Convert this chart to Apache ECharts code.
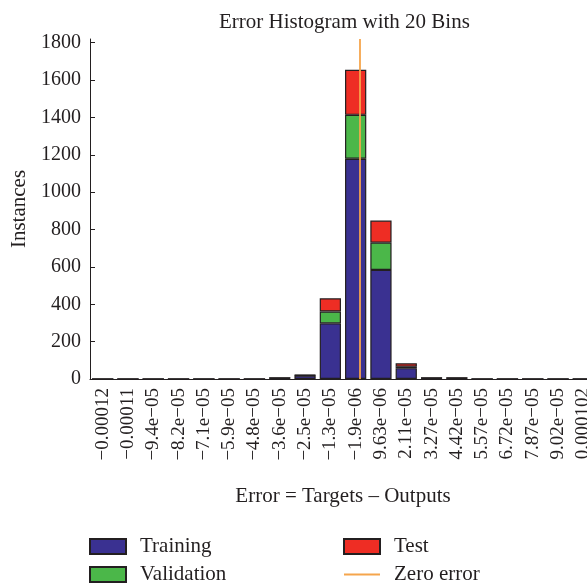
<!DOCTYPE html>
<html>
<head>
<meta charset="utf-8">
<script src="https://cdn.jsdelivr.net/npm/echarts@6/dist/echarts.min.js"></script>
<style>
  html, body { margin: 0; padding: 0; background: #fff; }
  #chart { width: 587px; height: 586px; }
</style>
</head>
<body>
<div id="chart"></div>
<script>
// Bin labels as printed under the axis (bin centres)
const tickLabels = [
  '\u22120.00012', '\u22120.00011', '\u22129.4e\u221205', '\u22128.2e\u221205', '\u22127.1e\u221205',
  '\u22125.9e\u221205', '\u22124.8e\u221205', '\u22123.6e\u221205', '\u22122.5e\u221205', '\u22121.3e\u221205',
  '\u22121.9e\u221206', '9.63e\u221206', '2.11e\u221205', '3.27e\u221205', '4.42e\u221205',
  '5.57e\u221205', '6.72e\u221205', '7.87e\u221205', '9.02e\u221205', '0.000102'
];

// Numeric bin centres (errors)
const binCenters = [
  -1.1687e-4, -1.0537e-4, -9.387e-5, -8.237e-5, -7.087e-5,
  -5.937e-5, -4.787e-5, -3.637e-5, -2.487e-5, -1.337e-5,
  -1.87e-6, 9.63e-6, 2.113e-5, 3.263e-5, 4.413e-5,
  5.563e-5, 6.713e-5, 7.863e-5, 9.013e-5, 1.0163e-4
];

// Instances per bin
const training   = [0, 0, 0, 0, 0, 0, 0, 4, 18, 298, 1179, 584, 58, 4, 4, 0, 0, 0, 0, 0];
const validation = [0, 0, 0, 0, 0, 0, 0, 1, 2, 63, 235, 146, 8, 1, 1, 0, 0, 0, 0, 0];
const test       = [0, 0, 0, 0, 0, 0, 0, 1, 2, 71, 241, 118, 18, 1, 1, 0, 0, 0, 0, 0];

const zeroError = 0;
const yTicks = [0, 200, 400, 600, 800, 1000, 1200, 1400, 1600, 1800];
const yMax = 1820;

const binWidth = (binCenters[binCenters.length - 1] - binCenters[0]) / (binCenters.length - 1);

const FONT = 'Liberation Serif';
const TEXT = '#231f20';
const AXIS = '#231f20';
const ORANGE = '#f5a54c';
const barBorder = { borderColor: '#231f20', borderWidth: 1.2 };

const legendText = { fontFamily: FONT, fontSize: 21, color: TEXT, lineHeight: 20, padding: [0, 0, 0, 9] };
// thin horizontal bar used as the legend glyph of the zero-error line
const lineIcon = 'path://M0,0h36v2h-36z';

const legendBase = {
  orient: 'vertical', top: 536, padding: 0,
  itemWidth: 36, itemHeight: 15, itemGap: 7,
  textStyle: legendText
};

const chart = echarts.init(document.getElementById('chart'), null, { renderer: 'canvas' });

chart.setOption({
  backgroundColor: '#fff',
  animation: false,
  textStyle: { fontFamily: FONT, color: TEXT },
  title: {
    text: 'Error Histogram with 20 Bins',
    left: 214,
    top: 7,
    textStyle: { fontFamily: FONT, fontSize: 21, fontWeight: 'normal', color: TEXT }
  },
  // plot area runs past the right edge, so the last bin is partly cut off
  grid: { left: 90, top: 39, width: 506, height: 340, containLabel: false, outerBoundsMode: 'none' },
  legend: [
    Object.assign({}, legendBase, {
      left: 89,
      data: [
        { name: 'Training', icon: 'rect' },
        { name: 'Validation', icon: 'rect' }
      ]
    }),
    Object.assign({}, legendBase, {
      left: 343,
      data: [
        { name: 'Test', icon: 'rect' },
        { name: 'Zero error', icon: lineIcon }
      ]
    })
  ],
  xAxis: [
    {
      type: 'category',
      data: tickLabels,
      name: 'Error = Targets \u2013 Outputs',
      nameLocation: 'middle',
      nameGap: 107,
      nameTextStyle: { fontFamily: FONT, fontSize: 21, color: TEXT },
      axisLine: { onZero: false, lineStyle: { color: AXIS, width: 1 } },
      axisTick: { inside: true, length: 5, alignWithLabel: true, lineStyle: { color: AXIS } },
      axisLabel: { rotate: 90, interval: 0, margin: 9, fontFamily: FONT, fontSize: 19, color: TEXT },
      splitLine: { show: false }
    },
    {
      type: 'value',
      show: false,
      min: binCenters[0] - binWidth / 2,
      max: binCenters[binCenters.length - 1] + binWidth / 2
    }
  ],
  yAxis: {
    type: 'value',
    min: 0,
    max: yMax,
    name: 'Instances',
    nameLocation: 'middle',
    nameGap: 52,
    nameTextStyle: { fontFamily: FONT, fontSize: 21, color: TEXT },
    axisLine: { show: true, onZero: false, lineStyle: { color: AXIS, width: 1 } },
    axisTick: { show: true, inside: true, length: 5, customValues: yTicks, lineStyle: { color: AXIS } },
    axisLabel: {
      margin: 9, customValues: yTicks, fontFamily: FONT, fontSize: 20, color: TEXT,
      formatter: (v) => String(v)
    },
    splitLine: { show: false }
  },
  series: [
    {
      name: 'Training', type: 'bar', stack: 'err', data: training,
      barCategoryGap: '16%',
      itemStyle: Object.assign({ color: '#3a3191' }, barBorder)
    },
    {
      name: 'Validation', type: 'bar', stack: 'err', data: validation,
      itemStyle: Object.assign({ color: '#4bb749' }, barBorder)
    },
    {
      name: 'Test', type: 'bar', stack: 'err', data: test,
      itemStyle: Object.assign({ color: '#ee2d24' }, barBorder)
    },
    {
      name: 'Zero error', type: 'line',
      xAxisIndex: 1,
      symbol: 'none',
      z: 5,
      lineStyle: { color: ORANGE, width: 1.8 },
      itemStyle: { color: ORANGE },
      data: [],
      markLine: {
        silent: true,
        symbol: ['none', 'none'],
        label: { show: false },
        lineStyle: { color: ORANGE, width: 1.8, type: 'solid' },
        data: [[{ coord: [zeroError, 0] }, { coord: [zeroError, yMax] }]]
      }
    }
  ]
});
</script>
</body>
</html>
